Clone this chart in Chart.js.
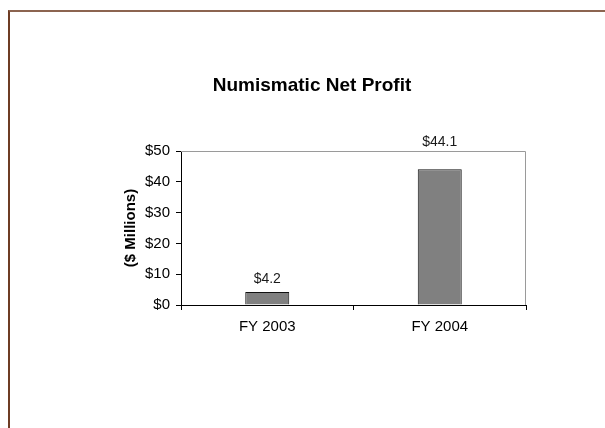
<!DOCTYPE html>
<html>
<head>
<meta charset="utf-8">
<script src="https://cdn.jsdelivr.net/npm/chart.js@4.4.1/dist/chart.umd.min.js"></script>
<style>
  html, body { margin: 0; padding: 0; background: #ffffff; }
  #wrap { position: relative; width: 605px; height: 428px; overflow: hidden; }
  #frame { position: absolute; left: 8px; top: 10px; width: 700px; height: 500px;
           border-top: 2px solid #8c6450; border-left: 2px solid #6e3c24; }
  #c { position: absolute; left: 0; top: 0; }
</style>
</head>
<body>
<div id="wrap">
  <div id="frame"></div>
  <canvas id="c" width="605" height="428"></canvas>
</div>
<script>
const categories = ["FY 2003", "FY 2004"];
const netProfit = [4.2, 44.1];
const valueLabels = ["$4.2", "$44.1"];
const yTickMax = 50;
const yTickStep = 10;

const FONT = "'Liberation Sans', Arial, Helvetica, sans-serif";

const frameAndLabels = {
  id: 'frameAndLabels',
  beforeDatasetsDraw(chart) {
    const {ctx, chartArea: a} = chart;
    ctx.save();
    ctx.strokeStyle = '#9a9a9a';
    ctx.lineWidth = 1;
    ctx.beginPath();
    ctx.moveTo(a.left, a.top + 0.5);
    ctx.lineTo(a.right - 0.5, a.top + 0.5);
    ctx.lineTo(a.right - 0.5, a.bottom);
    ctx.stroke();
    ctx.restore();
  },
  afterDatasetsDraw(chart, args, opts) {
    const {ctx} = chart;
    const meta = chart.getDatasetMeta(0);
    ctx.save();
    ctx.font = opts.font;
    ctx.fillStyle = opts.color;
    ctx.textAlign = 'center';
    ctx.textBaseline = 'middle';
    meta.data.forEach((bar, i) => {
      ctx.fillText(valueLabels[i], bar.x, bar.y - opts.offsets[i]);
    });
    ctx.restore();
  }
};

new Chart(document.getElementById('c'), {
  type: 'bar',
  data: {
    labels: categories,
    datasets: [{
      data: netProfit,
      backgroundColor: '#808080',
      borderColor: '#111111',
      borderWidth: 1,
      borderSkipped: 'bottom',
      categoryPercentage: 1.0,
      barPercentage: 0.255
    }]
  },
  options: {
    responsive: false,
    animation: false,
    devicePixelRatio: 1,
    layout: { padding: { left: 98, right: 79, top: 0, bottom: 0 } },
    plugins: {
      legend: { display: false },
      tooltip: { enabled: false },
      title: {
        display: true,
        text: 'Numismatic Net Profit',
        color: '#000000',
        font: { family: FONT, size: 19, weight: 'bold' },
        padding: { top: 74.6, bottom: 53.6 }
      },
      frameAndLabels: {
        font: "14px " + FONT,
        color: '#1a1a1a',
        offsets: [12.8, 27]
      }
    },
    scales: {
      x: {
        afterFit: (s) => { s.height = 123; },
        grid: { display: true, drawOnChartArea: false, drawTicks: true, tickLength: 5, color: '#000000', offset: true },
        border: { display: true, color: '#000000', width: 1 },
        ticks: { color: '#000000', font: { family: FONT, size: 15 }, padding: 8 }
      },
      y: {
        min: 0,
        max: yTickMax,
        afterFit: (s) => { s.width = 83; },
        grid: { display: true, drawOnChartArea: false, drawTicks: true, tickLength: 5, color: '#000000' },
        border: { display: true, color: '#000000', width: 1 },
        ticks: {
          stepSize: yTickStep,
          color: '#000000',
          font: { family: FONT, size: 15 },
          padding: 6,
          callback: (v) => '$' + v
        },
        title: {
          display: true,
          text: '($ Millions)',
          color: '#000000',
          font: { family: FONT, size: 15, weight: 'bold' },
          padding: { top: 24, bottom: 0 }
        }
      }
    }
  },
  plugins: [frameAndLabels]
});
</script>
</body>
</html>
